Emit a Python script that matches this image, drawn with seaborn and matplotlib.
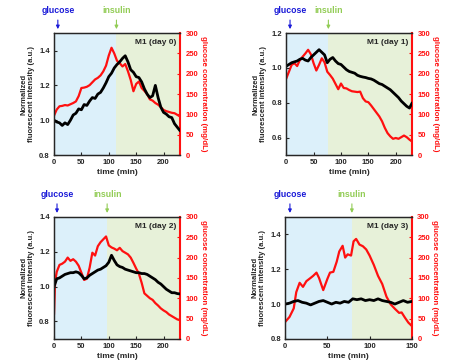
import matplotlib
matplotlib.use('Agg')
import matplotlib.pyplot as plt
import seaborn as sns

# ---- data ----
# panel 1: day 0
t1 = [0, 5, 10, 15, 20, 25, 30, 35, 40, 45, 50, 55, 60, 65, 70, 75, 80, 85, 90, 95,
      100, 105, 110, 115, 120, 125, 130, 135, 140, 145, 150, 155, 160, 165, 170, 175,
      180, 185, 190, 195, 200, 205, 210, 215, 220, 225, 230]
fl1 = [1.00, 0.99, 0.985, 0.97, 0.985, 0.975, 1.00, 1.03, 1.04, 1.065, 1.06, 1.09, 1.085,
       1.11, 1.13, 1.125, 1.15, 1.16, 1.185, 1.215, 1.25, 1.27, 1.30, 1.32, 1.335, 1.355,
       1.37, 1.335, 1.29, 1.275, 1.25, 1.245, 1.22, 1.18, 1.15, 1.13, 1.14, 1.20, 1.13,
       1.075, 1.045, 1.035, 1.02, 1.015, 0.98, 0.96, 0.94]
gl1 = [97, 112, 120, 121, 123, 122, 125, 128, 132, 145, 165, 166, 168, 172, 179, 186, 190,
       196, 206, 220, 245, 264, 250, 232, 226, 218, 224, 206, 185, 157, 175, 181, 165, 158,
       150, 137, 134, 128, 124, 118, 111, 108, 106, 104, 103, 99, 95]

# panel 2: day 1
t2 = t1
fl2 = [1.01, 1.02, 1.03, 1.035, 1.04, 1.05, 1.055, 1.045, 1.04, 1.06, 1.075, 1.09, 1.105,
       1.09, 1.075, 1.03, 1.05, 1.06, 1.04, 1.025, 1.02, 1.005, 0.99, 0.98, 0.975, 0.97,
       0.958, 0.952, 0.948, 0.945, 0.94, 0.937, 0.93, 0.92, 0.91, 0.905, 0.895, 0.885,
       0.875, 0.86, 0.845, 0.83, 0.81, 0.795, 0.78, 0.77, 0.80]
gl2 = [188, 205, 222, 226, 219, 234, 242, 250, 259, 248, 226, 208, 222, 238, 228, 205, 197,
       188, 175, 162, 176, 165, 164, 160, 157, 156, 155, 156, 140, 132, 130, 122, 113, 104,
       95, 83, 67, 54, 46, 40, 42, 40, 44, 48, 44, 38, 33]

# panel 3: day 2
t3_fl = t1
fl3 = [1.00, 1.045, 1.05, 1.06, 1.07, 1.075, 1.08, 1.08, 1.085, 1.08, 1.065, 1.045, 1.05,
       1.065, 1.075, 1.085, 1.095, 1.10, 1.11, 1.12, 1.14, 1.18, 1.15, 1.125, 1.115, 1.11,
       1.10, 1.095, 1.09, 1.085, 1.08, 1.08, 1.075, 1.075, 1.07, 1.06, 1.05, 1.04, 1.025,
       1.015, 1.00, 0.985, 0.975, 0.965, 0.965, 0.96, 0.958]
t3_gl = [0, 2] + t1[1:]
gl3 = [60, 140, 165, 182, 185, 190, 200, 192, 196, 190, 180, 163, 145, 148, 175, 212, 205,
       228, 238, 245, 252, 230, 225, 222, 218, 224, 216, 212, 208, 200, 187, 173, 160, 138,
       112, 106, 100, 96, 88, 82, 75, 70, 66, 60, 56, 52, 48, 46]

# panel 4: day 3
t4_fl = [0, 5, 10, 15, 20, 25, 30, 35, 40, 45, 50, 55, 60, 65, 70, 75, 80, 85, 90, 95,
         100, 105, 110, 115, 120, 125, 130, 135, 140, 145, 150]
fl4 = [1.00, 1.005, 1.015, 1.02, 1.01, 1.005, 0.995, 1.005, 1.015, 1.02, 1.01, 1.00, 1.01,
       1.005, 1.015, 1.01, 1.03, 1.025, 1.03, 1.02, 1.025, 1.02, 1.03, 1.02, 1.015, 1.01,
       1.00, 1.01, 1.02, 1.01, 1.015]
t4_gl = [0, 5, 10, 13, 17, 21, 25, 30, 33, 37, 40, 45, 50, 53, 57, 61, 64, 68, 71, 74, 78,
         81, 84, 88, 92, 96, 100, 105, 110, 115, 120, 125, 130, 135, 138, 142, 146, 150]
gl4 = [42, 54, 75, 115, 138, 128, 142, 150, 155, 163, 150, 120, 148, 163, 165, 190, 215,
       229, 200, 208, 205, 240, 246, 232, 228, 220, 205, 182, 155, 135, 104, 85, 74, 64, 65,
       52, 40, 32]

titles = ['M1 (day 0)', 'M1 (day 1)', 'M1 (day 2)', 'M1 (day 3)']
insulin_t = [114, 77, 97, 79]
glucose_t = [7, 7, 5.5, 5.5]
xmax = [230, 230, 230, 150]
ylims = [(0.8, 1.5), (0.5, 1.2), (0.7, 1.4), (0.8, 1.5)]
yticks = [[0.8, 1.0, 1.2, 1.4], [0.6, 0.8, 1.0, 1.2], [0.8, 1.0, 1.2, 1.4], [0.8, 1.0, 1.2, 1.4]]
xticks = [[0, 50, 100, 150, 200]] * 3 + [[0, 50, 100, 150]]

series = [(t1, fl1, t1, gl1), (t2, fl2, t2, gl2), (t3_fl, fl3, t3_gl, gl3),
          (t4_fl, fl4, t4_gl, gl4)]

sns.set_style('ticks')
plt.rcParams['font.family'] = ['Liberation Sans', 'DejaVu Sans']
plt.rcParams['font.weight'] = 'bold'
plt.rcParams['axes.labelweight'] = 'bold'

fig = plt.figure(figsize=(4.5, 3.64), dpi=100)
positions = [[0.12, 0.574, 0.28, 0.335], [0.636, 0.574, 0.28, 0.335],
             [0.12, 0.069, 0.28, 0.335], [0.634, 0.069, 0.281, 0.335]]

for i in range(4):
    ax = fig.add_axes(positions[i])
    tw = ax.twinx()
    tx, fl, tg, gl = series[i]

    # shading and glucose curve live on the twin (drawn underneath)
    tw.axvspan(0, insulin_t[i], color='#dcf0fa', lw=0, zorder=0)
    tw.axvspan(insulin_t[i], xmax[i], color='#e7f1d9', lw=0, zorder=0)
    sns.lineplot(x=tg, y=gl, ax=tw, color='#ff1010', lw=1.6)
    tw.set_ylim(0, 300)
    tw.set_yticks([0, 50, 100, 150, 200, 250, 300])
    tw.set_ylabel('glucose concentration (mg/dL)', color='#ff1010', fontsize=5.7,
                  rotation=270, labelpad=6)
    tw.tick_params(axis='y', colors='#ff1010', direction='in', length=2.5, width=0.8,
                   labelsize=5.5, pad=4)
    tw.spines['right'].set_color('#ff1010')
    tw.spines['right'].set_linewidth(1.5)

    # fluorescence on top
    ax.set_zorder(tw.get_zorder() + 1)
    ax.patch.set_visible(False)
    sns.lineplot(x=tx, y=fl, ax=ax, color='black', lw=2.0)
    ax.set_xlim(0, xmax[i])
    ax.set_ylim(*ylims[i])
    ax.set_yticks(yticks[i])
    ax.set_xticks(xticks[i])
    ax.set_xlabel('time (min)', fontsize=6, labelpad=2)
    ax.set_ylabel('Normalized\nfluorescent intensity (a.u.)', fontsize=5.5, labelpad=3,
                  linespacing=1.1)
    ax.tick_params(direction='in', length=2.5, width=0.8, labelsize=5.5, pad=3)
    for s in ['left', 'top', 'bottom']:
        ax.spines[s].set_linewidth(0.9)
        tw.spines[s].set_linewidth(0.9)
    ax.spines['right'].set_visible(False)

    ax.text(0.97, 0.92, titles[i], transform=ax.transAxes, ha='right', va='center',
            fontsize=6)

    trans = ax.get_xaxis_transform()
    ax.annotate('', xy=(glucose_t[i], 1.01), xytext=(glucose_t[i], 1.13), xycoords=trans,
                arrowprops=dict(arrowstyle='-|>', color='#1a1ad8', lw=0.8, mutation_scale=5),
                annotation_clip=False)
    ax.text(glucose_t[i], 1.185, 'glucose', transform=trans, ha='center', va='center',
            color='#1a1ad8', fontsize=6.3)
    ax.annotate('', xy=(insulin_t[i], 1.01), xytext=(insulin_t[i], 1.13), xycoords=trans,
                arrowprops=dict(arrowstyle='-|>', color='#92cc55', lw=0.8, mutation_scale=5),
                annotation_clip=False)
    ax.text(insulin_t[i], 1.185, 'insulin', transform=trans, ha='center', va='center',
            color='#92cc55', fontsize=6.3)

fig.savefig('out.png', dpi=100)
